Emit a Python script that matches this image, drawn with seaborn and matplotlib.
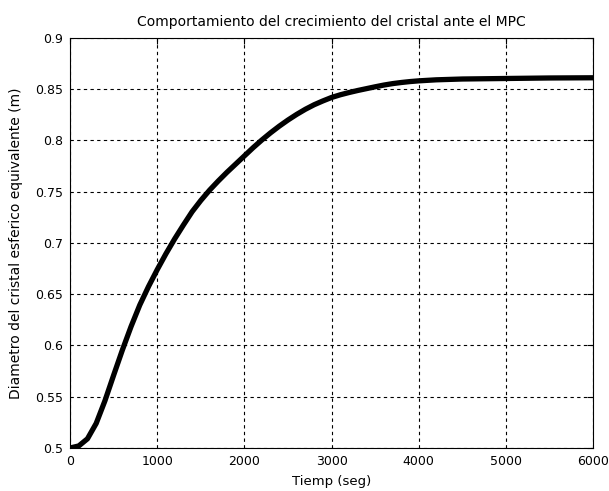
import matplotlib
matplotlib.use("Agg")
import matplotlib.pyplot as plt
import seaborn as sns
import pandas as pd

tiempo = [0, 100, 200, 300, 400, 500, 600, 700, 800, 900, 1000, 1100, 1200, 1300,
          1400, 1500, 1600, 1700, 1800, 1900, 2000, 2100, 2200, 2300, 2400, 2500,
          2600, 2700, 2800, 2900, 3000, 3100, 3200, 3300, 3400, 3500, 3600, 3700,
          3800, 3900, 4000, 4200, 4500, 5000, 5500, 6000]
diametro = [0.500, 0.502, 0.509, 0.524, 0.546, 0.571, 0.5955, 0.6185, 0.6395, 0.6575,
            0.674, 0.6895, 0.704, 0.7175, 0.7305, 0.7415, 0.7515, 0.7605, 0.769, 0.777,
            0.785, 0.793, 0.8005, 0.8075, 0.814, 0.820, 0.8255, 0.8305, 0.8349, 0.8386,
            0.842, 0.8446, 0.8468, 0.8488, 0.8506, 0.8524, 0.8541, 0.8555, 0.8566, 0.8575,
            0.8582, 0.8592, 0.860, 0.8605, 0.861, 0.8612]
xticks = [0, 1000, 2000, 3000, 4000, 5000, 6000]
yticks = [0.5, 0.55, 0.6, 0.65, 0.7, 0.75, 0.8, 0.85, 0.9]
ytick_labels = ["0.5", "0.55", "0.6", "0.65", "0.7", "0.75", "0.8", "0.85", "0.9"]

sns.set_theme(style="white")
plt.rcParams['font.family'] = ['DejaVu Sans']

df = pd.DataFrame({"t": tiempo, "d": diametro})

fig = plt.figure(figsize=(6.09, 4.91), dpi=100)
ax = fig.add_axes([0.115, 0.0876, 0.859, 0.835])
sns.lineplot(data=df, x="t", y="d", ax=ax, color="black", linewidth=3.8)

ax.set_xlim(0, 6000)
ax.set_ylim(0.5, 0.9)
ax.set_xticks(xticks)
ax.set_xticklabels([str(v) for v in xticks])
ax.set_yticks(yticks)
ax.set_yticklabels(ytick_labels)
ax.grid(True, color="black", linestyle=(0, (3, 3)), linewidth=0.8)
for s in ax.spines.values():
    s.set_color("black")
    s.set_linewidth(0.8)
    s.set_visible(True)
ax.tick_params(direction="in", length=4, width=0.8, colors="black",
               labelcolor="black", labelsize=9, top=True, right=True, pad=5)
ax.set_xlabel("Tiemp (seg)", fontsize=9.5, labelpad=5, color="black")
ax.set_ylabel("Diametro del cristal esferico equivalente (m)", fontsize=10,
              labelpad=9, color="black")
ax.set_title("Comportamiento del crecimiento del cristal ante el MPC", fontsize=10,
             pad=9, color="black")

fig.savefig("out.png", dpi=100, facecolor="white")
